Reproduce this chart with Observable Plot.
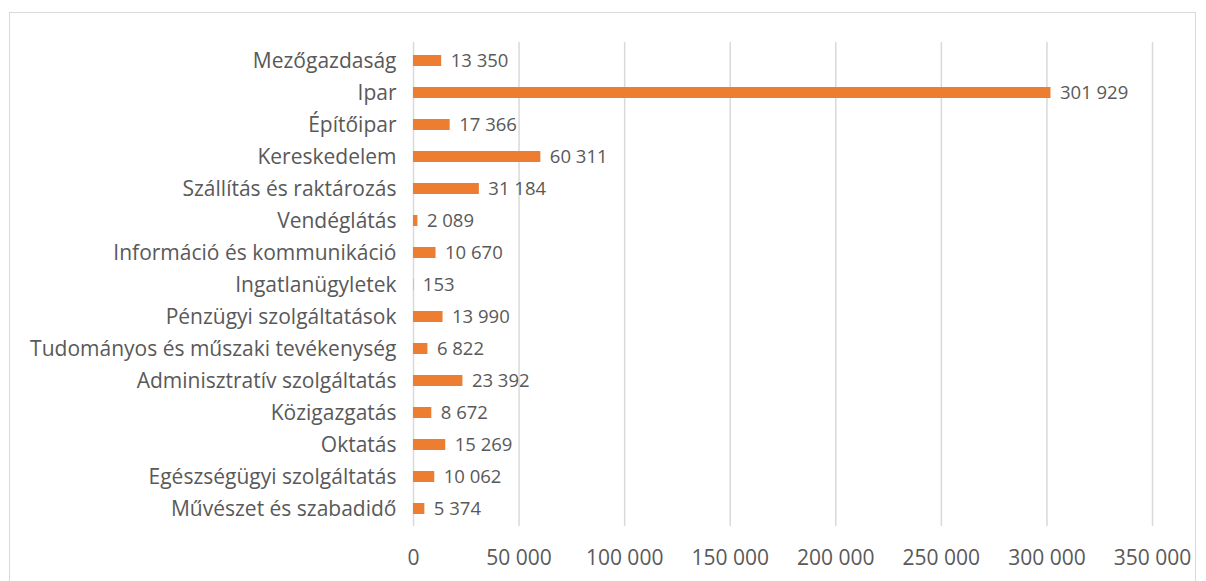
<!DOCTYPE html>
<html>
<head>
<meta charset="utf-8">
<script src="https://cdn.jsdelivr.net/npm/d3@7"></script>
<script src="https://cdn.jsdelivr.net/npm/@observablehq/plot@0.6"></script>
<style>
  html, body { margin: 0; padding: 0; background: #fff; }
  #wrap { position: relative; width: 1206px; height: 581px; overflow: hidden; }
  #frame { position: absolute; left: 9px; top: 12px; width: 1187px; height: 600px; border: 1px solid #d9d9d9; box-sizing: border-box; }
  #chart { position: absolute; left: 0; top: 0; }
</style>
</head>
<body>
<div id="wrap"><div id="frame"></div><div id="chart"></div></div>
<script>
const categories = [
  "Mezőgazdaság", "Ipar", "Építőipar", "Kereskedelem", "Szállítás és raktározás",
  "Vendéglátás", "Információ és kommunikáció", "Ingatlanügyletek", "Pénzügyi szolgáltatások",
  "Tudományos és műszaki tevékenység", "Adminisztratív szolgáltatás", "Közigazgatás",
  "Oktatás", "Egészségügyi szolgáltatás", "Művészet és szabadidő"
];
const values = [13350, 301929, 17366, 60311, 31184, 2089, 10670, 153, 13990, 6822, 23392, 8672, 15269, 10062, 5374];
const xTicks = [0, 50000, 100000, 150000, 200000, 250000, 300000, 350000];

const data = categories.map((c, i) => ({category: c, value: values[i]}));
const fmt = v => d3.format(",")(v).replace(/,/g, " ");
const font = "'Open Sans', sans-serif";

const chart = Plot.plot({
  width: 1206,
  height: 581,
  marginLeft: 413,
  marginRight: 54,
  marginTop: 42,
  marginBottom: 55,
  style: {fontFamily: font, background: "transparent", color: "#595959"},
  x: {domain: [0, 350000], ticks: xTicks, tickFormat: fmt, label: null},
  y: {domain: categories, paddingInner: 0.66, paddingOuter: 0.33, label: null},
  marks: [
    Plot.ruleX(xTicks, {stroke: "#d9d9d9", strokeWidth: 1.5}),
    Plot.axisX({ticks: xTicks, tickFormat: fmt, tickSize: 0, tickPadding: 24, fontSize: 21, fill: "#595959", label: null}),
    Plot.axisY({tickSize: 0, tickPadding: 17, fontSize: 21, fill: "#595959", label: null}),
    Plot.barX(data, {x: "value", y: "category", fill: "#ed7d31"}),
    Plot.text(data, {x: "value", y: "category", text: d => fmt(d.value), textAnchor: "start", dx: 9, fontSize: 18.5, fill: "#595959"})
  ]
});
document.getElementById("chart").appendChild(chart);
</script>
</body>
</html>
